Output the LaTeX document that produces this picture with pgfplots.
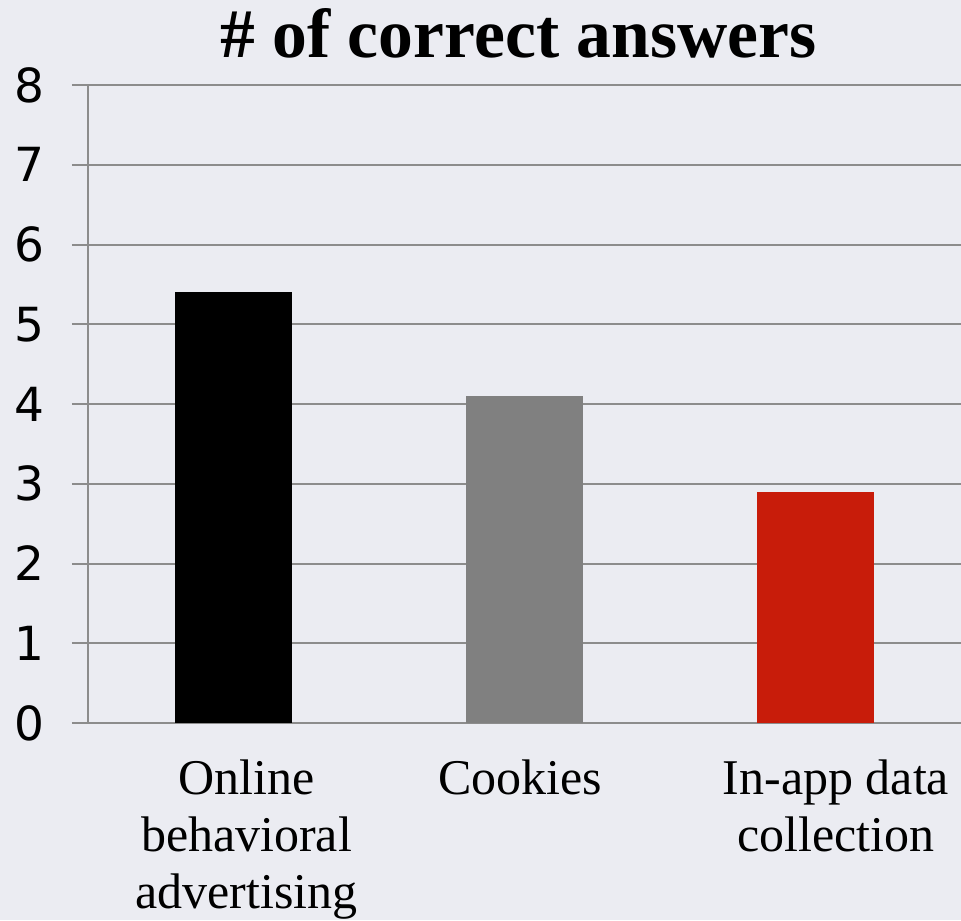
\documentclass[border=0pt]{standalone}
\usepackage{pgfplots}
\pgfplotsset{compat=1.18}
\usepackage{fontspec}
\setmainfont{Liberation Serif}
\newfontfamily\tickfont{DejaVu Sans}
\definecolor{bg}{HTML}{EBECF2}
\definecolor{gridc}{HTML}{8C8C8C}
\definecolor{barred}{HTML}{C81C0A}
\definecolor{bargray}{HTML}{808080}
\begin{document}
\begin{tikzpicture}
\fill[bg] (-44pt,-98.5pt) rectangle (436.5pt,361.5pt);
\begin{axis}[at={(0pt,0pt)}, anchor=south west, scale only axis,
 width=436.5pt, height=319pt,
 xmin=0, xmax=3, ymin=0, ymax=8,
 axis lines=left, axis line style={draw=gridc, line width=1pt, -},
 ytick={0,...,8}, ymajorgrids, grid style={draw=gridc, line width=1pt},
 tick align=outside, major tick length=8pt,
 ytick style={draw=gridc, line width=1pt},
 xtick={0.5447,1.4845,2.5704}, xtick style={draw=none},
 xticklabels={{Online\\behavioral\\advertising}, Cookies, {In-app data\\collection}},
 xticklabel style={anchor=north, inner sep=0pt, yshift=-10pt, align=center,
   font=\fontsize{25}{28.5}\selectfont},
 yticklabel style={anchor=east, inner sep=0pt, xshift=-13.5pt, font=\tickfont\fontsize{23.5}{28}\selectfont},
 /pgf/number format/assume math mode=true,
 ybar, bar shift=0pt, bar width=0.4,
 clip=false,
]
\addplot[fill=black, draw=none] coordinates {(0.5,5.4)};
\addplot[fill=bargray, draw=none] coordinates {(1.5,4.1)};
\addplot[fill=barred, draw=none] coordinates {(2.5,2.9)};
\node[font=\bfseries\fontsize{34.8}{40}\selectfont, anchor=base] at (rel axis cs:0.493,1) [yshift=14pt] {\# of correct answers};
\end{axis}
\pgfresetboundingbox
\useasboundingbox (-44pt,-98.5pt) rectangle (436.5pt,361.5pt);
\end{tikzpicture}
\end{document}
